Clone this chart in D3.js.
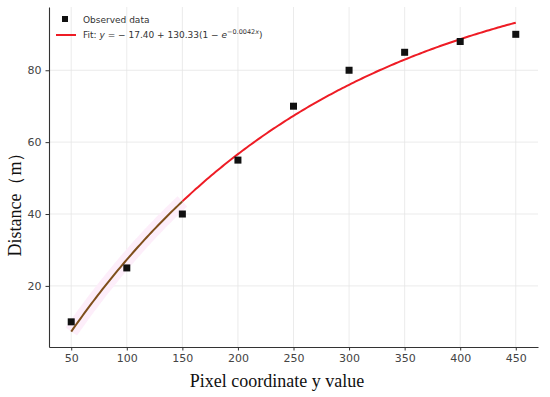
<!DOCTYPE html>
<html>
<head>
<meta charset="utf-8">
<script src="https://cdn.jsdelivr.net/npm/d3@7"></script>
<style>
  body { margin: 0; background: #fff; }
  svg { display: block; }
</style>
</head>
<body>
<svg id="chart" width="550" height="397"></svg>
<script>
// observed points
var xData = [50, 100, 150, 200, 250, 300, 350, 400, 450]
var yData = [10, 25, 40, 55, 70, 80, 85, 88, 90]
// fit params: y = a + b(1 - e^(-k x))
var fitA = -17.40
var fitB = 130.33
var fitK = 0.0042
var xTicks = [50, 100, 150, 200, 250, 300, 350, 400, 450]
var yTicks = [20, 40, 60, 80]

var svg = d3.select("#chart")
// note: "top" is taken by window.top, so use plotTop etc.
var plotLeft = 49, plotRight = 538, plotTop = 7, plotBottom = 347

var x = d3.scaleLinear().domain([30, 470]).range([plotLeft, plotRight])
var y = d3.scaleLinear().domain([3.0, 97.6]).range([plotBottom, plotTop])

function fit(v) { return fitA + fitB * (1 - Math.exp(-fitK * v)) }

// grid
svg.append("g").selectAll("line").data(xTicks).enter().append("line")
	.attr("x1", d => x(d)).attr("x2", d => x(d))
	.attr("y1", plotTop).attr("y2", plotBottom)
	.style("stroke", "#e6e6e6").style("stroke-width", 0.8)
svg.append("g").selectAll("line").data(yTicks).enter().append("line")
	.attr("x1", plotLeft).attr("x2", plotRight)
	.attr("y1", d => y(d)).attr("y2", d => y(d))
	.style("stroke", "#e6e6e6").style("stroke-width", 0.8)

// axes
var xAxis = svg.append("g").attr("transform", "translate(0," + plotBottom + ")")
	.call(d3.axisBottom(x).tickValues(xTicks).tickSizeInner(3.5).tickSizeOuter(0).tickPadding(4))
var yAxis = svg.append("g").attr("transform", "translate(" + plotLeft + ",0)")
	.call(d3.axisLeft(y).tickValues(yTicks).tickSizeInner(3.5).tickSizeOuter(0).tickPadding(4))
;[xAxis, yAxis].forEach(function(g) {
	g.select(".domain").style("stroke", "#333").style("stroke-width", 1.1)
	g.selectAll(".tick line").style("stroke", "#333")
	g.selectAll("text").style("fill", "#444").style("font-family", "DejaVu Sans")
		.style("font-size", "11px")
})

// fitted curve, sampled from the formula
var xs = d3.range(50, 450.5, 2)
var line = d3.line().x(d => x(d)).y(d => y(fit(d)))
var lower = xs.filter(d => d <= 150)
var upper = xs.filter(d => d >= 150)

// faint pink haze around the lower segment
svg.append("path").datum(lower).attr("d", line)
	.style("fill", "none").style("stroke", "#fdeefa").style("stroke-width", 14)
svg.append("path").datum(upper).attr("d", line)
	.style("fill", "none").style("stroke", "#ee1c25").style("stroke-width", 2)
svg.append("path").datum(lower).attr("d", line)
	.style("fill", "none").style("stroke", "#7f4f1c").style("stroke-width", 2)

// observed markers
var ms = 7
svg.append("g").selectAll("rect").data(xData).enter().append("rect")
	.attr("x", d => x(d) - ms / 2)
	.attr("y", (d, i) => y(yData[i]) - ms / 2)
	.attr("width", ms).attr("height", ms)
	.style("fill", "#111")

// legend
var lg = svg.append("g").style("font-family", "DejaVu Sans").style("font-size", "9px").style("fill", "#333")
lg.append("rect").attr("x", 62).attr("y", 16).attr("width", 6).attr("height", 6).style("fill", "#111")
lg.append("text").attr("x", 83).attr("y", 23).text("Observed data")
lg.append("line").attr("x1", 56).attr("x2", 76).attr("y1", 35).attr("y2", 35)
	.style("stroke", "#ee1c25").style("stroke-width", 2)
var ft = lg.append("text").attr("x", 83).attr("y", 38)
ft.append("tspan").text("Fit: ")
ft.append("tspan").style("font-style", "italic").text("y")
ft.append("tspan").text(" = − 17.40 + 130.33(1 − ")
ft.append("tspan").style("font-style", "italic").text("e")
ft.append("tspan").attr("dy", -4).style("font-size", "6.5px").text("−0.0042")
ft.append("tspan").style("font-size", "6.5px").style("font-style", "italic").text("x")
ft.append("tspan").attr("dy", 4).text(")")

// axis titles
svg.append("text").attr("x", 277).attr("y", 387).attr("text-anchor", "middle")
	.style("font-family", "Liberation Serif").style("font-size", "18px").style("fill", "#111")
	.text("Pixel coordinate y value")
svg.append("text").attr("transform", "translate(21,200) rotate(-90)").attr("text-anchor", "middle")
	.style("font-family", "Liberation Serif").style("font-size", "18px").style("fill", "#111")
	.text("Distance（m）")
</script>
</body>
</html>
